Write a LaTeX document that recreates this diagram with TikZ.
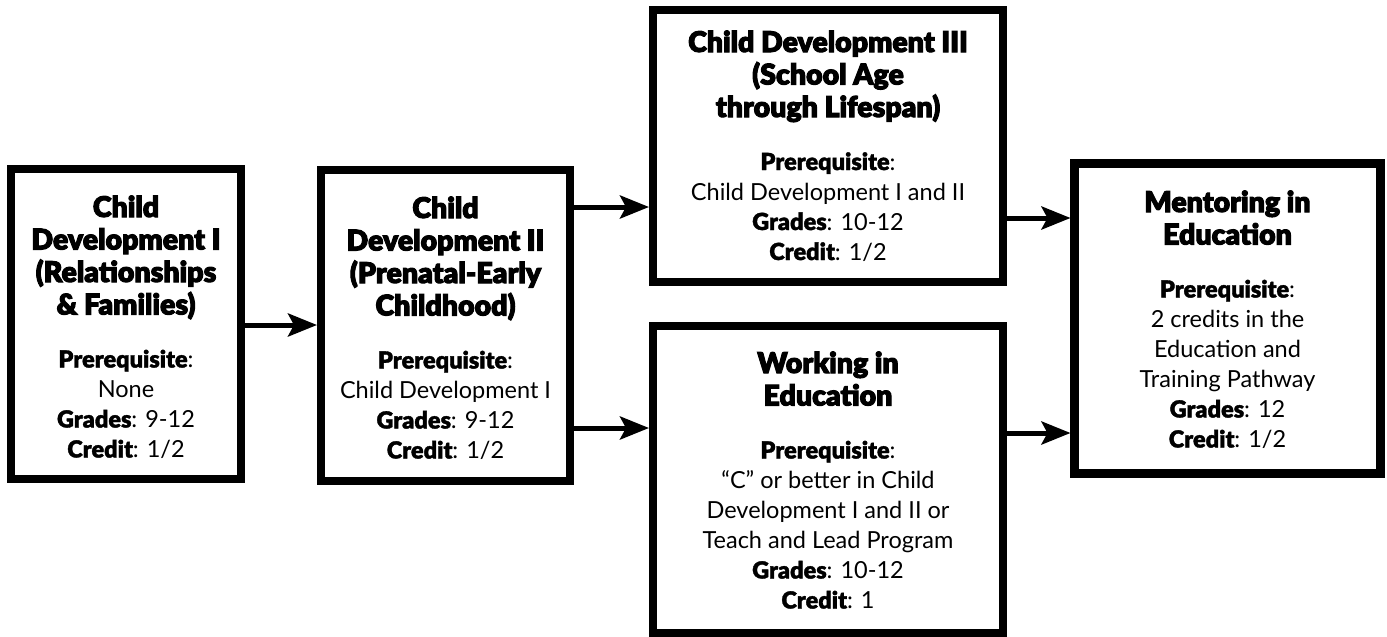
\documentclass[tikz,border=0pt]{standalone}
\usepackage{fontspec}
\setmainfont{Lato}
\newfontfamily\headfont{Lato Black}[FakeBold=3.5]
\newfontfamily\labfont{Lato Black}[FakeBold=1.5]
\usetikzlibrary{arrows.meta}
\tikzset{
  course/.style={draw=black, line width=8pt, fill=white, inner sep=0pt, outer sep=0pt, rectangle},
  arr/.style={line width=5pt, -{Stealth[length=29pt,width=23pt,inset=6pt]}, shorten >=4pt}
}
\newcommand{\cbox}[5]{%
  \parbox[c][#2][t]{#1}{\centering
    {\headfont\fontsize{28.5}{32.5}\selectfont\rule{0pt}{#3}#4\par}%
    \vspace{23pt}%
    {\fontsize{23.5}{30}\selectfont #5\par}}}
\newcommand{\lb}[1]{{\labfont #1}:}
\begin{document}
\begin{tikzpicture}[x=1pt,y=-1pt]
\useasboundingbox (0,0) rectangle (1387,637);

\node[course, minimum width=230pt, minimum height=310pt] (b1) at (126,324)
  {\cbox{228pt}{310pt}{48pt}{Child\\Development I\\(Relationships\\\& Families)}%
   {\lb{Prerequisite}\\None\\\lb{Grades} 9-12\\\lb{Credit} 1/2}};

\node[course, minimum width=249pt, minimum height=311pt] (b2) at (445.5,325.5)
  {\cbox{245pt}{311pt}{48pt}{Child\\Development II\\(Prenatal-Early\\Childhood)}%
   {\lb{Prerequisite}\\Child Development I\\\lb{Grades} 9-12\\\lb{Credit} 1/2}};

\node[course, minimum width=350pt, minimum height=272pt] (b3) at (828,146)
  {\cbox{342pt}{272pt}{42pt}{Child Development III\\(School Age\\through Lifespan)}%
   {\lb{Prerequisite}\\Child Development I and II\\\lb{Grades} 10-12\\\lb{Credit} 1/2}};

\node[course, minimum width=350pt, minimum height=307pt] (b4) at (828,479.5)
  {\cbox{342pt}{307pt}{47pt}{Working in\\Education}%
   {\lb{Prerequisite}\\“C” or better in Child\\Development I and II or\\Teach and Lead Program\\\lb{Grades} 10-12\\\lb{Credit} 1}};

\node[course, line width=9pt, minimum width=306pt, minimum height=310pt] (b5) at (1227.5,318.5)
  {\cbox{296pt}{310pt}{48.5pt}{Mentoring in\\Education}%
   {\lb{Prerequisite}\\2 credits in the\\Education and\\Training Pathway\\\lb{Grades} 12\\\lb{Credit} 1/2}};

\draw[arr] ([yshift=-1pt]b1.east) -- ([yshift=-1pt]b1.east -| b2.west);
\draw[arr] ([yshift=118.5pt]b2.east) -- ([yshift=118.5pt]b2.east -| b3.west);
\draw[arr] ([yshift=-102.5pt]b2.east) -- ([yshift=-102.5pt]b2.east -| b4.west);
\draw[arr] ([yshift=-72pt]b3.east) -- ([yshift=-72pt]b3.east -| b5.west);
\draw[arr] ([yshift=46.5pt]b4.east) -- ([yshift=46.5pt]b4.east -| b5.west);
\end{tikzpicture}
\end{document}
